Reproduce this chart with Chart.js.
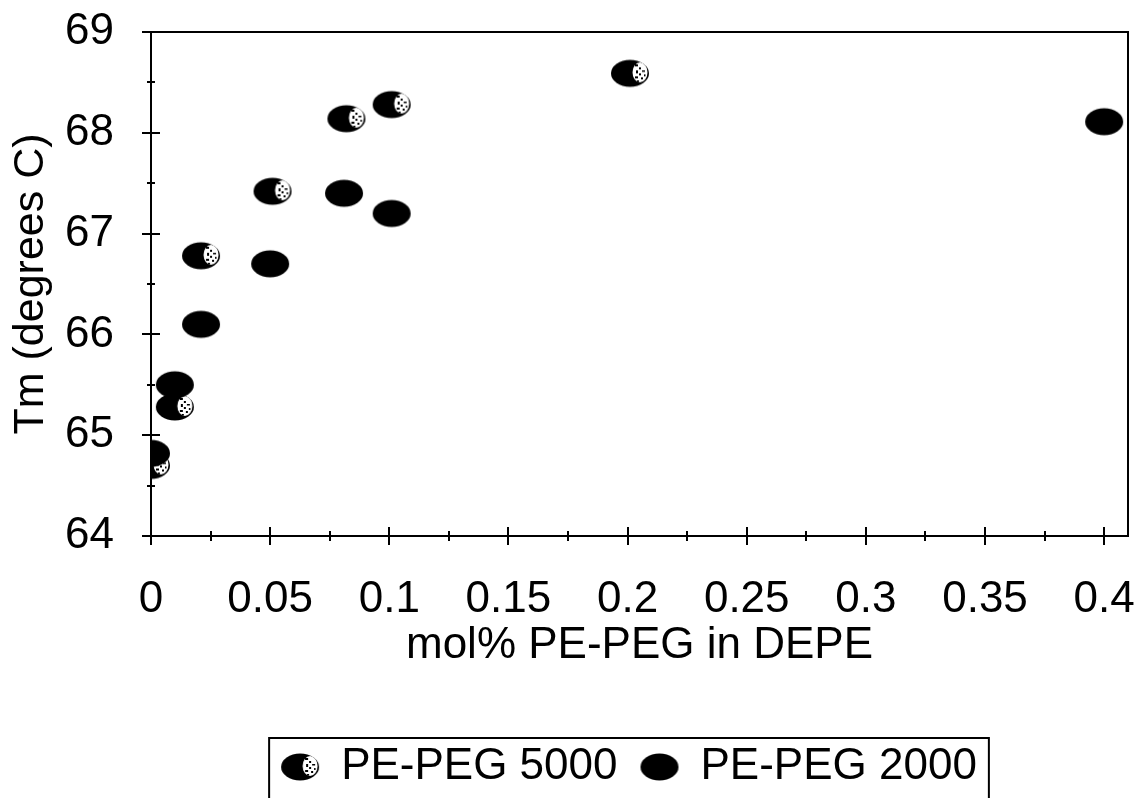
<!DOCTYPE html>
<html>
<head>
<meta charset="utf-8">
<title>Tm vs mol% PE-PEG in DEPE</title>
<script src="https://cdn.jsdelivr.net/npm/chart.js@4.4.1/dist/chart.umd.min.js"></script>
<style>
    html, body { margin: 0; padding: 0; background: #fff; overflow: hidden; }
    #tm-chart { display: block; }
</style>
</head>
<body>
<canvas id="tm-chart" width="1134" height="820"></canvas>
<script>
// ================================================
// DATA
// ================================================

const seriesNames = ['PE-PEG 5000', 'PE-PEG 2000'];

// PE-PEG 5000 (speckled markers)
const peg5000X = [0, 0.01, 0.021, 0.051, 0.082, 0.101, 0.201];
const peg5000Y = [64.70, 65.28, 66.78, 67.42, 68.14, 68.28, 68.59];

// PE-PEG 2000 (solid markers)
const peg2000X = [0, 0.01, 0.021, 0.05, 0.081, 0.101, 0.4];
const peg2000Y = [64.82, 65.50, 66.10, 66.70, 67.40, 67.20, 68.11];

// Axis ticks
const xMajorTicks = [0, 0.05, 0.1, 0.15, 0.2, 0.25, 0.3, 0.35, 0.4];
const xTickLabels = ['0', '0.05', '0.1', '0.15', '0.2', '0.25', '0.3', '0.35', '0.4'];
const xMinorTicks = [0.025, 0.075, 0.125, 0.175, 0.225, 0.275, 0.325, 0.375];
const yMajorTicks = [64, 65, 66, 67, 68, 69];
const yTickLabels = ['64', '65', '66', '67', '68', '69'];
const yMinorTicks = [64.5, 65.5, 66.5, 67.5, 68.5];

const FONT = '"Liberation Sans", Arial, Helvetica, sans-serif';

/**
 * MARKER IMAGES (flattened ellipses)
 */
function makeMarker(speckled) {
    const c = document.createElement('canvas');
    c.width = 40;
    c.height = 30;
    const g = c.getContext('2d');

    g.beginPath();
    g.ellipse(20, 15, 19, 13.5, 0, 0, Math.PI * 2);
    g.fillStyle = '#000';
    g.fill();

    if (speckled) {
        g.save();
        g.clip();
        // light patch on the right side
        g.fillStyle = '#fff';
        g.beginPath();
        g.ellipse(30, 14, 7.5, 10, 0, 0, Math.PI * 2);
        g.fill();
        // dark flecks inside the patch
        g.fillStyle = '#000';
        [[25, 6, 3, 2], [29, 9, 2, 2], [32, 12, 3, 1.5], [26, 12, 2, 3], [29, 15, 2, 2],
         [25, 18, 3, 2], [31, 19, 2, 2], [27, 22, 2, 1.5], [34, 16, 1.5, 2]].forEach(f => {
            g.fillRect(f[0], f[1], f[2], f[3]);
        });
        g.restore();
    }
    return c;
}

const markerSpeckled = makeMarker(true);
const markerSolid = makeMarker(false);

function toPoints(xs, ys) {
    return xs.map((x, i) => ({ x: x, y: ys[i] }));
}

/**
 * FRAME + CROSSING TICK MARKS (drawn under the points)
 */
const framePlugin = {
    id: 'frame',
    beforeDatasetsDraw(chart) {
        const { ctx, chartArea: a, scales } = chart;
        ctx.save();
        ctx.strokeStyle = '#000';
        ctx.lineWidth = 2;
        ctx.strokeRect(a.left, a.top, a.right - a.left, a.bottom - a.top);

        ctx.beginPath();
        xMajorTicks.forEach(v => {
            const px = Math.round(scales.x.getPixelForValue(v));
            ctx.moveTo(px, a.bottom - 9);
            ctx.lineTo(px, a.bottom + 9);
        });
        xMinorTicks.forEach(v => {
            const px = Math.round(scales.x.getPixelForValue(v));
            ctx.moveTo(px, a.bottom - 5);
            ctx.lineTo(px, a.bottom + 5);
        });
        yMajorTicks.forEach(v => {
            const py = Math.round(scales.y.getPixelForValue(v));
            ctx.moveTo(a.left - 9, py);
            ctx.lineTo(a.left + 9, py);
        });
        yMinorTicks.forEach(v => {
            const py = Math.round(scales.y.getPixelForValue(v));
            ctx.moveTo(a.left - 4, py);
            ctx.lineTo(a.left + 4, py);
        });
        ctx.stroke();
        ctx.restore();
    }
};

/**
 * LEGEND POSITION + BOX
 */
const legendBoxPlugin = {
    id: 'legendBox',
    afterLayout(chart) {
        // legend sits a bit right of the canvas centre in the original
        chart.legend.left += 65;
        chart.legend.right += 65;
    },
    afterDraw(chart) {
        const lg = chart.legend;
        const boxes = lg.legendHitBoxes;
        if (!boxes || !boxes.length) return;
        const last = boxes[boxes.length - 1];
        const left = boxes[0].left - 12;
        const right = last.left + last.width + 12;
        const top = lg.top + 16;
        const ctx = chart.ctx;
        ctx.save();
        ctx.strokeStyle = '#000';
        ctx.lineWidth = 2;
        ctx.strokeRect(left, top, right - left, 90);
        ctx.restore();
    }
};

/**
 * BUILD CHART
 */
function initChart() {
    Chart.defaults.font.family = FONT;
    Chart.defaults.color = '#000';

    const ctx = document.getElementById('tm-chart').getContext('2d');

    new Chart(ctx, {
        type: 'scatter',
        data: {
            datasets: [
                {
                    label: seriesNames[0],
                    data: toPoints(peg5000X, peg5000Y),
                    pointStyle: markerSpeckled,
                    pointRadius: 14,
                    borderWidth: 0,
                    backgroundColor: '#000',
                    order: 1
                },
                {
                    label: seriesNames[1],
                    data: toPoints(peg2000X, peg2000Y),
                    pointStyle: markerSolid,
                    pointRadius: 14,
                    borderWidth: 0,
                    backgroundColor: '#000',
                    order: 0
                }
            ]
        },
        options: {
            responsive: false,
            animation: false,
            layout: {
                autoPadding: false,
                padding: { left: 0, right: 6, top: 32, bottom: 21 }
            },
            plugins: {
                tooltip: { enabled: false },
                legend: {
                    position: 'bottom',
                    labels: {
                        usePointStyle: true,
                        pointStyleWidth: 38,
                        padding: 23,
                        color: '#000',
                        font: { size: 44, family: FONT },
                        sort: (a, b) => a.datasetIndex - b.datasetIndex
                    }
                }
            },
            scales: {
                x: {
                    type: 'linear',
                    min: 0,
                    max: 0.41,
                    afterBuildTicks: scale => {
                        scale.ticks = xMajorTicks.map(v => ({ value: v }));
                    },
                    afterFit: scale => {
                        scale.height = 186;
                        scale.paddingLeft = 0;
                        scale.paddingRight = 0;
                    },
                    grid: { display: false },
                    border: { display: false },
                    ticks: {
                        padding: 29,
                        maxRotation: 0,
                        autoSkip: false,
                        font: { size: 44 },
                        callback: (value, index) => xTickLabels[index]
                    },
                    title: {
                        display: true,
                        text: 'mol% PE-PEG in DEPE',
                        font: { size: 44 },
                        padding: { top: 0, bottom: 50 }
                    }
                },
                y: {
                    type: 'linear',
                    min: 64,
                    max: 69,
                    afterBuildTicks: scale => {
                        scale.ticks = yMajorTicks.map(v => ({ value: v }));
                    },
                    afterFit: scale => {
                        scale.width = 151;
                        scale.paddingTop = 0;
                        scale.paddingBottom = 0;
                    },
                    grid: { display: false },
                    border: { display: false },
                    ticks: {
                        padding: 29,
                        autoSkip: false,
                        font: { size: 44 },
                        callback: (value, index) => yTickLabels[index]
                    },
                    title: {
                        display: true,
                        text: 'Tm (degrees C)',
                        font: { size: 43 },
                        padding: { top: 5, bottom: 0 }
                    }
                }
            }
        },
        plugins: [framePlugin, legendBoxPlugin]
    });
}

document.addEventListener('DOMContentLoaded', initChart);
</script>
</body>
</html>
